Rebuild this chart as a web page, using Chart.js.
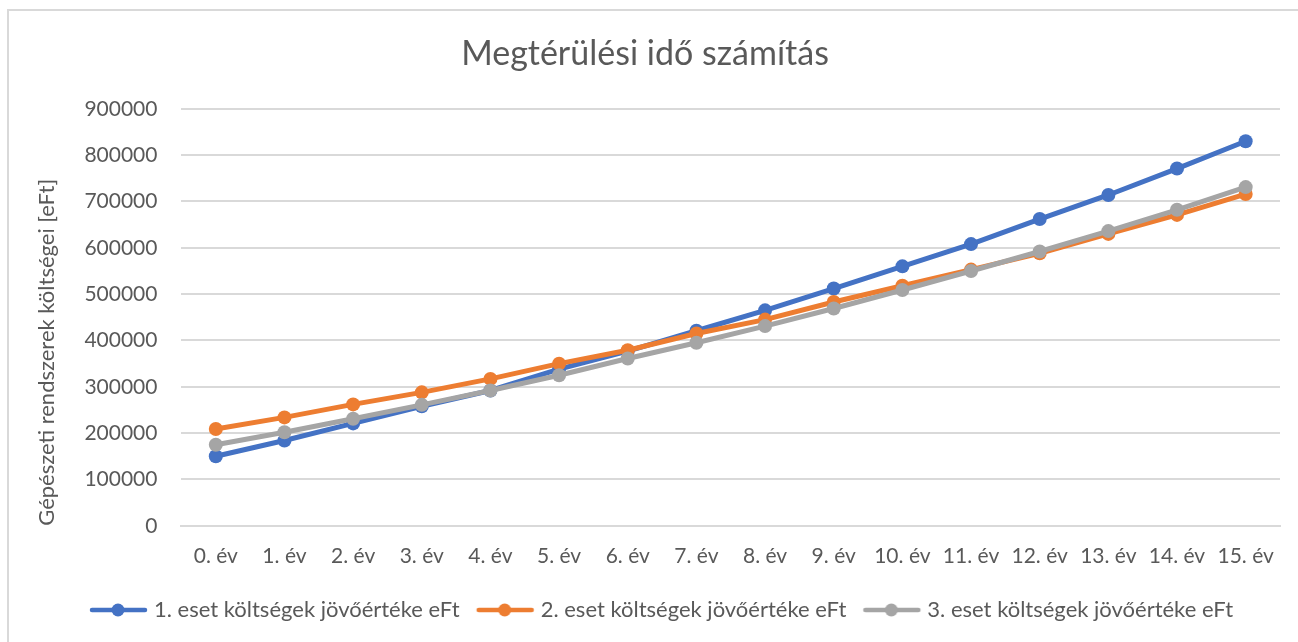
<!DOCTYPE html>
<html>
<head>
<meta charset="utf-8">
<script src="https://cdn.jsdelivr.net/npm/chart.js@4/dist/chart.umd.min.js"></script>
<style>
    html, body { margin: 0; padding: 0; background: #fff; overflow: hidden; }
    #frame {
        position: absolute; left: 7px; top: 9px;
        width: 1400px; height: 700px;
        border: 2px solid #d9d9d9;
    }
    #wrap { position: absolute; left: 0; top: 0; width: 1298px; height: 642px; }
</style>
</head>
<body>
<div id="frame"></div>
<div id="wrap"><canvas id="chart"></canvas></div>
<script>
const years = ['0. év', '1. év', '2. év', '3. év', '4. év', '5. év', '6. év', '7. év',
    '8. év', '9. év', '10. év', '11. év', '12. év', '13. év', '14. év', '15. év'];

const case1 = [150000, 184000, 221000, 258000, 292000, 338000, 377000, 421000,
    465000, 512000, 560000, 608000, 662000, 714000, 771000, 830000];
const case2 = [209000, 234000, 262000, 288000, 317000, 350000, 379000, 415000,
    445000, 483000, 518000, 553000, 588000, 630000, 671000, 716000];
const case3 = [175000, 202000, 231000, 261000, 292000, 325000, 361000, 395000,
    431000, 469000, 509000, 550000, 592000, 636000, 682000, 731000];

const seriesNames = [
    '1. eset költségek jövőértéke eFt',
    '2. eset költségek jövőértéke eFt',
    '3. eset költségek jövőértéke eFt'
];
const colors = ['#4472C4', '#ED7D31', '#A5A5A5'];

const FONT = 'Lato, "Open Sans", sans-serif';
const TEXT = '#595959';

// legend marker: short line with a dot in the middle
function legendMarker(color) {
    const c = document.createElement('canvas');
    c.width = 66; c.height = 16;
    const g = c.getContext('2d');
    g.strokeStyle = color;
    g.lineWidth = 4.5;
    g.lineCap = 'round';
    g.beginPath(); g.moveTo(7, 8); g.lineTo(60, 8); g.stroke();
    g.fillStyle = color;
    g.beginPath(); g.arc(33, 8, 6.5, 0, Math.PI * 2); g.fill();
    return c;
}

const data = [case1, case2, case3];
const datasets = data.map((values, i) => ({
    label: seriesNames[i],
    data: values,
    borderColor: colors[i],
    backgroundColor: colors[i],
    borderWidth: 5,
    pointRadius: 7,
    pointHoverRadius: 7,
    pointBorderWidth: 0,
    pointStyle: 'circle',
    tension: 0,
    order: 3 - i
}));

const markers = colors.map(legendMarker);

// nudge the legend row a little to the right of the centre
const legendShift = {
    id: 'legendShift',
    afterLayout(chart) {
        chart.legend.left += 18;
        chart.legend.right += 18;
    }
};

new Chart(document.getElementById('chart'), {
    type: 'line',
    data: { labels: years, datasets: datasets },
    plugins: [legendShift],
    options: {
        responsive: true,
        maintainAspectRatio: false,
        animation: false,
        layout: { padding: { left: 10, right: 18, top: 16, bottom: 11 } },
        plugins: {
            title: {
                display: true,
                text: 'Megtérülési idő számítás',
                color: TEXT,
                font: { family: FONT, size: 34, weight: 'normal' },
                padding: { top: 18, bottom: 34 }
            },
            legend: {
                position: 'bottom',
                labels: {
                    usePointStyle: true,
                    pointStyleWidth: 50,
                    generateLabels: (chart) => chart.data.datasets.map((ds, i) => ({
                        text: ds.label,
                        fontColor: TEXT,
                        pointStyle: markers[i],
                        datasetIndex: i,
                        lineWidth: 0,
                        hidden: false
                    })),
                    color: TEXT,
                    font: { family: FONT, size: 22 },
                    padding: 20
                }
            },
            tooltip: { enabled: false }
        },
        scales: {
            x: {
                offset: true,
                grid: { display: false },
                border: { color: '#d9d9d9', width: 2 },
                ticks: { color: TEXT, font: { family: FONT, size: 21 }, padding: 10, maxRotation: 0 }
            },
            y: {
                min: 0,
                max: 900000,
                ticks: {
                    stepSize: 100000,
                    callback: (v) => String(v),
                    color: TEXT,
                    font: { family: FONT, size: 21 },
                    padding: 24
                },
                grid: { color: '#d9d9d9', lineWidth: 2, drawTicks: false },
                border: { display: false },
                title: {
                    display: true,
                    align: 'start',
                    text: 'Gépészeti rendszerek költségei [eFt]',
                    color: TEXT,
                    font: { family: FONT, size: 22 },
                    padding: { top: 24, bottom: 0 }
                }
            }
        }
    }
});
</script>
</body>
</html>
